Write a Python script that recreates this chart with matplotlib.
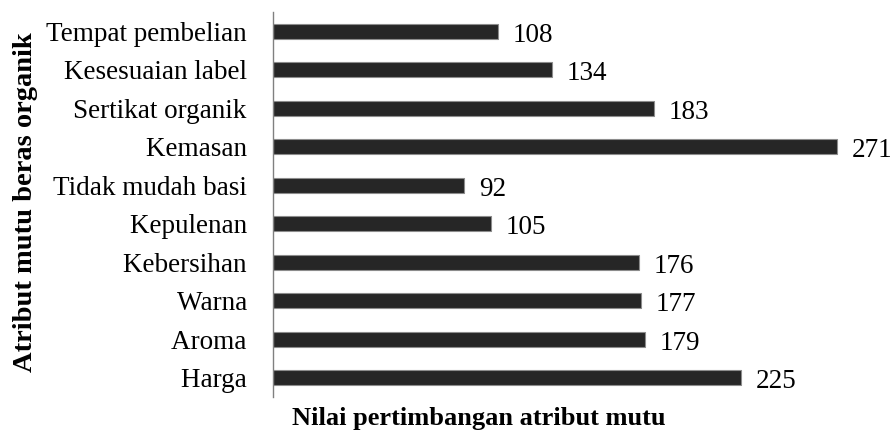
import matplotlib.pyplot as plt

plt.rcParams['font.family'] = ['Liberation Serif', 'DejaVu Serif']

# kategori dari bawah ke atas
atribut = ['Harga', 'Aroma', 'Warna', 'Kebersihan', 'Kepulenan',
           'Tidak mudah basi', 'Kemasan', 'Sertikat organik',
           'Kesesuaian label', 'Tempat pembelian']
nilai = [225, 179, 177, 176, 105, 92, 271, 183, 134, 108]

fig = plt.figure(figsize=(8.93, 4.33), dpi=100)
ax = fig.add_axes([273 / 893, 1 - 397 / 433, 1 - 273 / 893, 385 / 433])

pos = list(range(len(atribut)))
ax.barh(pos, nilai, height=0.4, color='#262626', edgecolor='#8c8c8c', linewidth=0.8)

for y, v in zip(pos, nilai):
    ax.text(v + 7, y - 0.1, str(v), va='center', ha='left', fontsize=19.5, clip_on=False)

ax.set_yticks(pos)
ax.set_yticklabels([a + ' ' for a in atribut], fontsize=19.5)
ax.tick_params(axis='y', length=0, pad=14)
ax.set_xticks([])
ax.set_xlim(0, 298)
ax.set_ylim(-0.5, 9.5)

for s in ['top', 'right', 'bottom']:
    ax.spines[s].set_visible(False)
ax.spines['left'].set_color('#808080')
ax.spines['left'].set_linewidth(1.0)

fig.text(479 / 893, 1 - 418 / 433, 'Nilai pertimbangan atribut mutu',
         ha='center', va='center', fontsize=19, fontweight='bold')
fig.text(26 / 893, 1 - 202 / 433, 'Atribut mutu beras organik',
         ha='center', va='center', rotation=90, fontsize=20.5, fontweight='bold')

fig.savefig('out.png', dpi=100)
